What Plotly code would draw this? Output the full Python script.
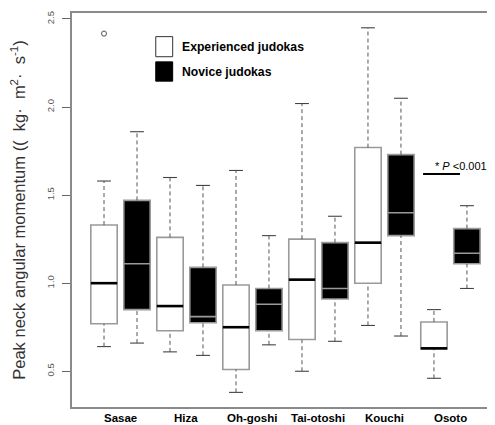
import plotly.graph_objects as go

# ---- data ----
categories = ["Sasae", "Hiza", "Oh-goshi", "Tai-otoshi", "Kouchi", "Osoto"]

exp_upper  = [1.58, 1.60, 1.64, 2.02, 2.45, 0.85]
exp_q3     = [1.33, 1.26, 0.99, 1.25, 1.77, 0.78]
exp_median = [1.00, 0.87, 0.75, 1.02, 1.23, 0.63]
exp_q1     = [0.77, 0.73, 0.51, 0.68, 1.00, 0.627]
exp_lower  = [0.64, 0.61, 0.38, 0.50, 0.76, 0.46]

nov_upper  = [1.86, 1.555, 1.27, 1.38, 2.05, 1.44]
nov_q3     = [1.47, 1.09, 0.97, 1.23, 1.73, 1.31]
nov_median = [1.11, 0.81, 0.88, 0.97, 1.40, 1.17]
nov_q1     = [0.85, 0.775, 0.73, 0.91, 1.27, 1.11]
nov_lower  = [0.66, 0.59, 0.65, 0.67, 0.70, 0.97]

outlier_cat = ["Sasae"]
outlier_val = [2.417]

yticks = [0.5, 1.0, 1.5, 2.0, 2.5]

# positions: experienced at odd slots, novice at even slots
exp_pos = [2 * i + 1 for i in range(len(categories))]
nov_pos = [2 * i + 2 for i in range(len(categories))]
cat_pos = [(a + b) / 2 for a, b in zip(exp_pos, nov_pos)]

BW = 0.8      # box width
CW = 0.42     # cap width
OUTLINE = "#9a9a9a"
FONT = "Liberation Sans, Arial, sans-serif"

fig = go.Figure()

def add_group(pos, q1, med, q3, fill, name):
    fig.add_trace(go.Box(
        x=pos, q1=q1, median=med, q3=q3, lowerfence=q1, upperfence=q3,
        width=BW, fillcolor=fill, line=dict(color=OUTLINE, width=1.6),
        whiskerwidth=0, boxpoints=False, name=name, showlegend=False,
        hoverinfo="skip"))

add_group(exp_pos, exp_q1, exp_median, exp_q3, "white", "Experienced judokas")
add_group(nov_pos, nov_q1, nov_median, nov_q3, "black", "Novice judokas")

def whiskers(pos, lo, q1, q3, hi):
    wx, wy, cx, cy = [], [], [], []
    for p, a, b, c, d in zip(pos, lo, q1, q3, hi):
        wx += [p, p, None, p, p, None]
        wy += [a, b, None, c, d, None]
        cx += [p - CW / 2, p + CW / 2, None, p - CW / 2, p + CW / 2, None]
        cy += [a, a, None, d, d, None]
    fig.add_trace(go.Scatter(x=wx, y=wy, mode="lines", showlegend=False,
                             line=dict(color="#555555", width=1, dash="4px,3px"),
                             hoverinfo="skip"))
    fig.add_trace(go.Scatter(x=cx, y=cy, mode="lines", showlegend=False,
                             line=dict(color="#444444", width=1.1),
                             hoverinfo="skip"))

whiskers(exp_pos, exp_lower, exp_q1, exp_q3, exp_upper)
whiskers(nov_pos, nov_lower, nov_q1, nov_q3, nov_upper)

# black medians for experienced boxes
mx, my = [], []
for p, m in zip(exp_pos, exp_median):
    mx += [p - BW / 2, p + BW / 2, None]
    my += [m, m, None]
fig.add_trace(go.Scatter(x=mx, y=my, mode="lines", showlegend=False,
                         line=dict(color="black", width=2.6), hoverinfo="skip"))

# outlier
fig.add_trace(go.Scatter(
    x=[exp_pos[categories.index(c)] for c in outlier_cat], y=outlier_val,
    mode="markers", showlegend=False, hoverinfo="skip",
    marker=dict(symbol="circle-open", size=5, color="#777777",
                line=dict(width=1.2, color="#777777"))))

# category labels
for c, p in zip(categories, cat_pos):
    fig.add_annotation(x=p, y=0, xref="x", yref="paper", yanchor="top",
                       yshift=-3, showarrow=False, text="<b>%s</b>" % c,
                       font=dict(family=FONT, size=11.5, color="black"))

# significance mark (Osoto)
fig.add_shape(type="line", x0=10.67, x1=11.79, y0=1.62, y1=1.62,
              line=dict(color="black", width=2))
fig.add_annotation(x=10.98, y=1.665, xref="x", yref="y", xanchor="left",
                   text="* <i>P</i> <0.001", showarrow=False,
                   font=dict(family=FONT, size=11, color="black"))

# legend (manual)
fig.add_shape(type="rect", xref="paper", yref="paper",
              x0=0.198, x1=0.238, y0=0.889, y1=0.940,
              line=dict(color="#333333", width=1), fillcolor="white")
fig.add_shape(type="rect", xref="paper", yref="paper",
              x0=0.198, x1=0.238, y0=0.827, y1=0.876,
              line=dict(color="black", width=1), fillcolor="black")
fig.add_annotation(x=0.255, y=0.913, xref="paper", yref="paper",
                   xanchor="left", yanchor="middle", showarrow=False,
                   text="<b>Experienced judokas</b>",
                   font=dict(family=FONT, size=12.2, color="black"))
fig.add_annotation(x=0.255, y=0.850, xref="paper", yref="paper",
                   xanchor="left", yanchor="middle", showarrow=False,
                   text="<b>Novice judokas</b>",
                   font=dict(family=FONT, size=12.2, color="black"))

# page body adds an 8px margin, so the figure is 8px smaller
fig.update_layout(
    width=487, height=417,
    margin=dict(l=64, r=0, t=5, b=18, autoexpand=False),
    paper_bgcolor="white", plot_bgcolor="white",
    boxmode="overlay",
    showlegend=False,
    font=dict(family=FONT),
    xaxis=dict(range=[0.03, 12.85], showgrid=False, zeroline=False,
               showline=True, linecolor="#8a8a8a", linewidth=1.5, mirror=True,
               showticklabels=False, ticks="", automargin=False),
    yaxis=dict(range=[0.297, 2.534], showgrid=False, zeroline=False,
               showline=True, linecolor="#8a8a8a", linewidth=1.5,
               tickvals=yticks, ticktext=["%.1f" % v for v in yticks],
               ticks="outside", ticklen=8, tickcolor="#666666", tickwidth=1,
               tickangle=-90, ticklabelstandoff=4, automargin=False,
               tickfont=dict(family=FONT, size=9.5, color="#555555"),
               title=dict(text="Peak neck angular momentum ((  kg·  m<sup>2</sup>·  s<sup>-1</sup>)",
                          font=dict(family=FONT, size=16.5, color="#333333"),
                          standoff=16)),
)

fig.write_html("out.html")
